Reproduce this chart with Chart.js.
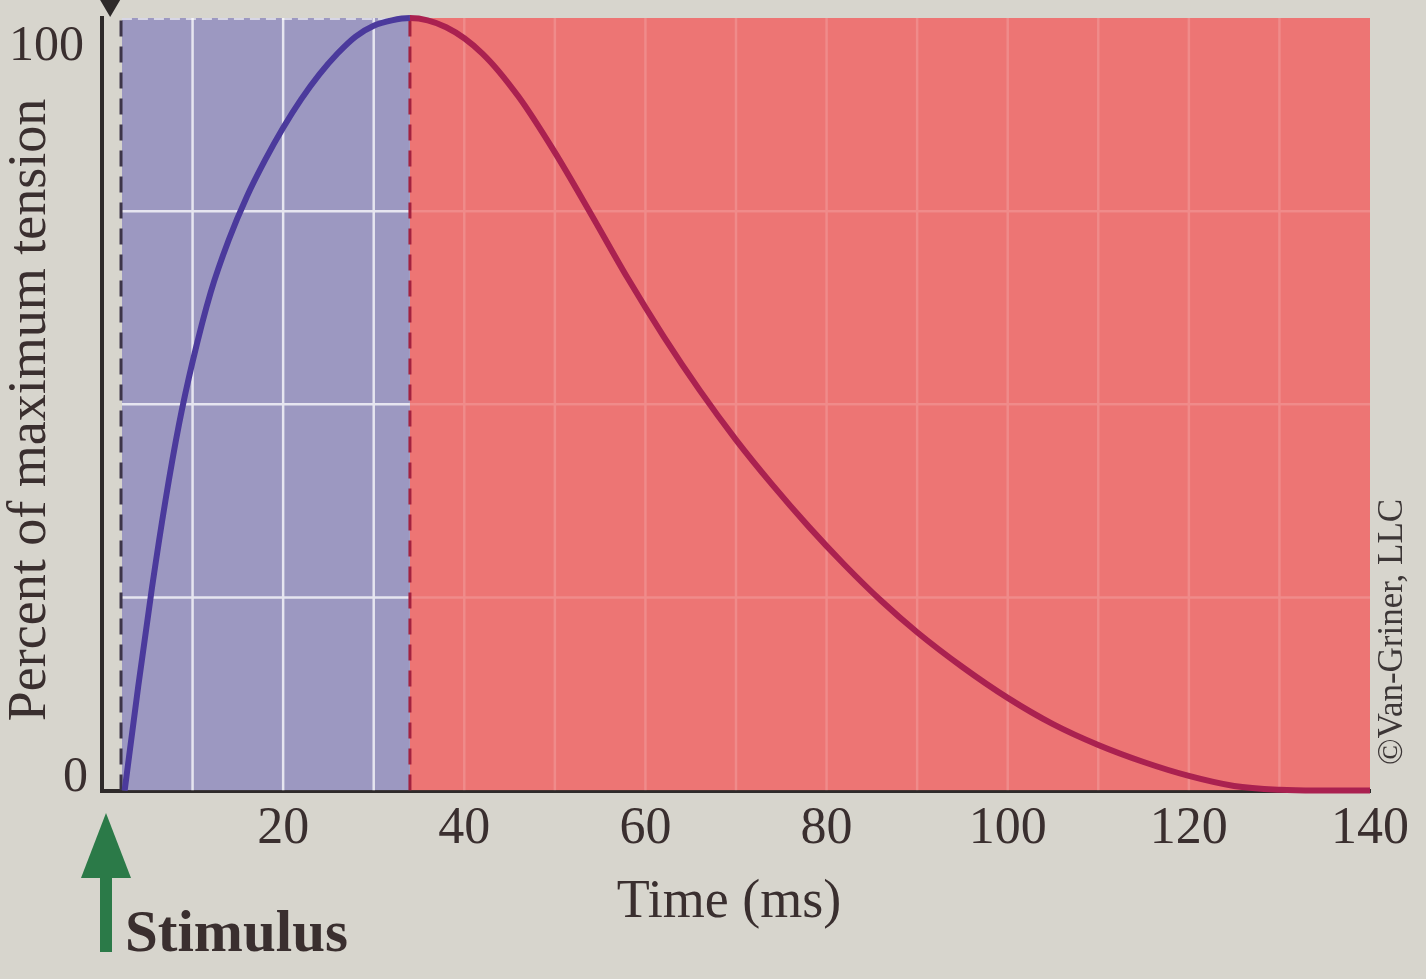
<!DOCTYPE html>
<html>
<head>
<meta charset="utf-8">
<script src="https://cdn.jsdelivr.net/npm/chart.js@4.4.0/dist/chart.umd.min.js"></script>
<style>
  html, body { margin: 0; padding: 0; background: #d7d5cd; }
  #wrap { width: 1426px; height: 979px; }
</style>
</head>
<body>
<div id="wrap"><canvas id="contraccion" width="1426" height="979"></canvas></div>
<script>
// tiempo en ms, tension en % de la maxima
const tiempo = [2.5, 4, 5.5, 7, 8.5, 10, 12, 14, 16, 18, 20, 22, 24, 26, 28, 30, 32, 34,
  38, 42, 46, 50, 54, 58, 62, 66, 70, 74, 78, 82, 86, 90, 95, 100, 105, 110, 115, 120,
  125, 130, 134, 140];
const tension = [0, 13.5, 26.1, 37.5, 47.4, 55.5, 64.5, 71.3, 76.9, 81.6, 85.8, 89.5,
  92.7, 95.4, 97.6, 99.0, 99.7, 100,
  98.8, 95.4, 89.8, 82.6, 74.6, 66.4, 58.8, 51.8, 45.4, 39.6, 34.2, 29.2, 24.6, 20.5,
  16.0, 12.0, 8.6, 5.9, 3.7, 1.9, 0.6, 0.1, 0, 0];

// periodos: latente+contraccion (azul) y relajacion (rojo)
const periodoAzul = [2.2, 34];
const periodoRojo = [34, 140];
const ticksX = [20, 40, 60, 80, 100, 120, 140];
const ticksY = [0, 100];

const azul = "#9c98c1";
const rojo = "#ed7574";
const curvaAzul = "#4b3a9c";
const curvaRoja = "#aa2150";
const tinta = "#3a2f2f";
const serif = "'Liberation Serif', 'DejaVu Serif', serif";

const rectangulo = (p) => [{ x: p[0], y: 100 }, { x: p[1], y: 100 }];
const vertical = (t) => [{ x: t, y: 0 }, { x: t, y: 100 }];

// lineas de la cuadricula, mas marcadas en la zona azul
const cuadricula = {
  id: "cuadricula",
  afterDatasetDraw(chart, args) {
    if (args.index !== 0) return;
    const { ctx, chartArea, scales } = chart;
    const x = scales.x, y = scales.y;
    const zonas = [
      { p: periodoAzul, color: "rgba(255,255,255,0.75)" },
      { p: periodoRojo, color: "rgba(255,255,255,0.16)" },
    ];
    zonas.forEach((z) => {
      const x0 = x.getPixelForValue(z.p[0]);
      const x1 = x.getPixelForValue(z.p[1]);
      ctx.save();
      ctx.beginPath();
      ctx.rect(x0, chartArea.top, x1 - x0, chartArea.bottom - chartArea.top);
      ctx.clip();
      ctx.strokeStyle = z.color;
      ctx.lineWidth = 2.5;
      ctx.beginPath();
      for (let t = 10; t < 140; t += 10) {
        const px = x.getPixelForValue(t);
        ctx.moveTo(px, chartArea.top);
        ctx.lineTo(px, chartArea.bottom);
      }
      [25, 50, 75].forEach((v) => {
        const py = y.getPixelForValue(v);
        ctx.moveTo(x0, py);
        ctx.lineTo(x1, py);
      });
      ctx.stroke();
      ctx.restore();
    });
    // borde superior discontinuo de la zona azul
    ctx.save();
    ctx.strokeStyle = "rgba(255,255,255,0.6)";
    ctx.setLineDash([10, 6]);
    ctx.lineWidth = 2;
    ctx.beginPath();
    ctx.moveTo(x.getPixelForValue(periodoAzul[0]), y.getPixelForValue(100) + 1);
    ctx.lineTo(x.getPixelForValue(periodoAzul[1]), y.getPixelForValue(100) + 1);
    ctx.stroke();
    ctx.restore();
  },
};

const textos = {
  id: "textos",
  afterDraw(chart) {
    const { ctx, chartArea, scales } = chart;
    const y = scales.y, x = scales.x;
    ctx.save();
    ctx.fillStyle = tinta;

    // etiquetas del eje y
    ctx.font = "50px " + serif;
    ctx.textAlign = "right";
    ctx.textBaseline = "alphabetic";
    ctx.fillText(String(ticksY[1]), chartArea.left - 18, y.getPixelForValue(ticksY[1]) + 42);
    ctx.fillText(String(ticksY[0]), chartArea.left - 14, y.getPixelForValue(ticksY[0]));

    // titulo eje y
    ctx.save();
    ctx.translate(31, 410);
    ctx.rotate(-Math.PI / 2);
    ctx.textAlign = "center";
    ctx.textBaseline = "middle";
    ctx.font = "54px " + serif;
    ctx.fillText("Percent of maximum tension", 0, 0);
    ctx.restore();

    // titulo eje x
    ctx.textAlign = "center";
    ctx.textBaseline = "middle";
    ctx.font = "54px " + serif;
    ctx.fillText("Time (ms)", 729, 903);

    // estimulo
    ctx.textAlign = "left";
    ctx.textBaseline = "alphabetic";
    ctx.font = "bold 59px " + serif;
    ctx.fillText("Stimulus", 125, 951);

    ctx.fillStyle = "#2b7a48";
    ctx.beginPath();
    ctx.moveTo(106, 813);
    ctx.lineTo(131, 878);
    ctx.lineTo(81, 878);
    ctx.closePath();
    ctx.fill();
    ctx.fillRect(100, 870, 12, 82);

    // flecha superior
    ctx.fillStyle = "#2e2a2a";
    const xf = x.getPixelForValue(0.9);
    ctx.beginPath();
    ctx.moveTo(xf - 10, 0);
    ctx.lineTo(xf + 10, 0);
    ctx.lineTo(xf, 17);
    ctx.closePath();
    ctx.fill();

    // credito
    ctx.save();
    ctx.translate(1393, 632);
    ctx.rotate(-Math.PI / 2);
    ctx.fillStyle = "#3c3636";
    ctx.textAlign = "center";
    ctx.textBaseline = "middle";
    ctx.font = "35px " + serif;
    ctx.fillText("\u00A9Van-Griner, LLC", 0, 0);
    ctx.restore();

    ctx.restore();
  },
};

const ctx = document.getElementById("contraccion");

new Chart(ctx, {
  type: "line",
  data: {
    datasets: [
      {
        data: rectangulo(periodoAzul),
        backgroundColor: azul,
        borderWidth: 0,
        pointRadius: 0,
        fill: "origin",
        order: 9,
      },
      {
        data: rectangulo(periodoRojo),
        backgroundColor: rojo,
        borderWidth: 0,
        pointRadius: 0,
        fill: "origin",
        order: 10,
      },
      {
        data: vertical(periodoAzul[0] - 0.1),
        borderColor: "#3d3548",
        borderWidth: 3,
        borderDash: [16, 10],
        pointRadius: 0,
        fill: false,
        order: 5,
      },
      {
        data: vertical(periodoAzul[1]),
        borderColor: "#a3213f",
        borderWidth: 3,
        borderDash: [16, 10],
        pointRadius: 0,
        fill: false,
        order: 5,
      },
      {
        data: tiempo.map((t, i) => ({ x: t, y: tension[i] })),
        borderWidth: 6,
        pointRadius: 0,
        fill: false,
        clip: 8,
        cubicInterpolationMode: "monotone",
        segment: {
          borderColor: (c) => (c.p0.parsed.x < periodoAzul[1] ? curvaAzul : curvaRoja),
        },
        order: 1,
      },
    ],
  },
  options: {
    responsive: false,
    animation: false,
    events: [],
    layout: { padding: { left: 102, right: 56, top: 18, bottom: 110 } },
    plugins: {
      legend: { display: false },
      tooltip: { enabled: false },
    },
    scales: {
      x: {
        type: "linear",
        min: 0,
        max: 140,
        afterBuildTicks: (s) => {
          s.ticks = ticksX.map((v) => ({ value: v }));
        },
        ticks: {
          autoSkip: false,
          maxRotation: 0,
          padding: 8,
          color: tinta,
          font: { family: serif, size: 52 },
        },
        grid: { display: false, drawTicks: false },
        border: { color: "#2e2a2a", width: 4 },
      },
      y: {
        min: 0,
        max: 100,
        ticks: { display: false },
        grid: { display: false, drawTicks: false },
        border: { color: "#2e2a2a", width: 4 },
      },
    },
  },
  plugins: [cuadricula, textos],
});
</script>
</body>
</html>
